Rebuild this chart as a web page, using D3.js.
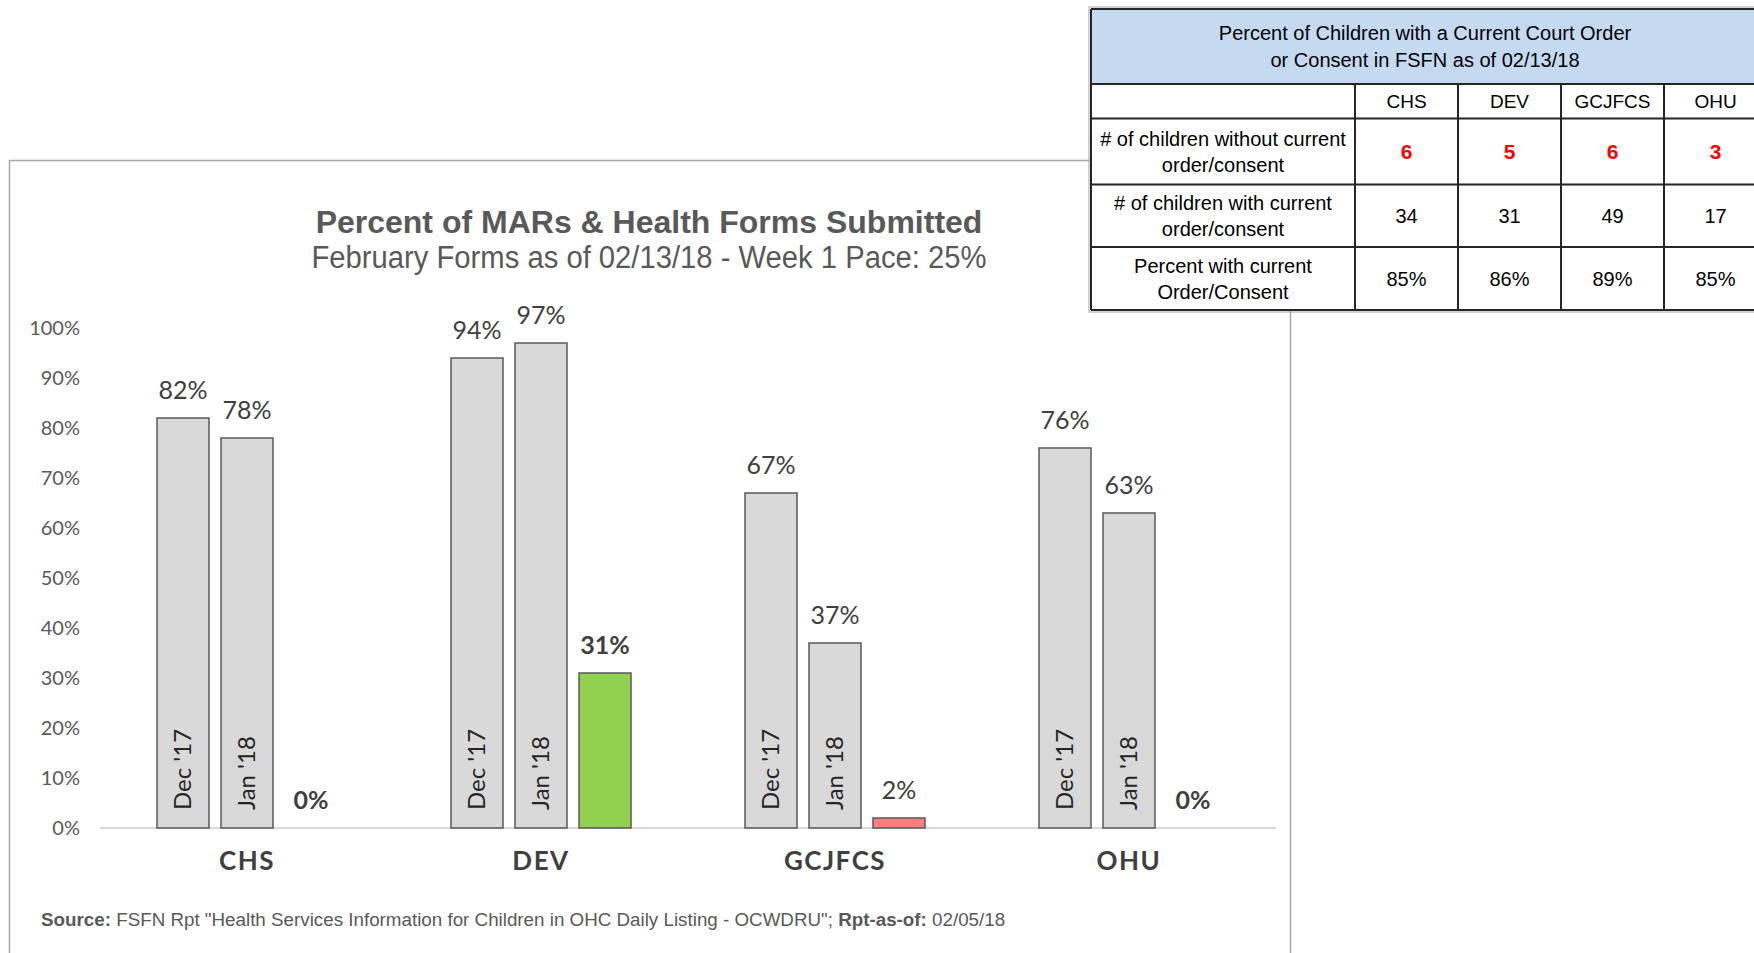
<!DOCTYPE html>
<html>
<head>
<meta charset="utf-8">
<script src="https://cdn.jsdelivr.net/npm/d3@7"></script>
<style>
  body { margin: 0; background: #fff; }
  svg { display: block; }
</style>
</head>
<body>
<svg id="chart"></svg>
<script>
// chart data
const groups = ["CHS", "DEV", "GCJFCS", "OHU"];
const periods = ["Dec '17", "Jan '18", "Feb '18"];
const dec17 = [82, 94, 67, 76];
const jan18 = [78, 97, 37, 63];
const feb18 = [0, 31, 2, 0];
const pace = 25;
const yTicks = [0, 10, 20, 30, 40, 50, 60, 70, 80, 90, 100];

// table data
const tableTitle = ["Percent of Children with a Current Court Order", "or Consent in FSFN as of 02/13/18"];
const tableCols = ["CHS", "DEV", "GCJFCS", "OHU"];
const rowLabels = [
  ["# of children without current", "order/consent"],
  ["# of children with current", "order/consent"],
  ["Percent with current", "Order/Consent"]
];
const withoutOrder = [6, 5, 6, 3];
const withOrder = [34, 31, 49, 17];
const pctWithOrder = ["85%", "86%", "89%", "85%"];

const WIDTH = 1754, HEIGHT = 953;
const CALIBRI = "Lato, 'Open Sans', sans-serif";
const ARIAL = "'Liberation Sans', Arial, sans-serif";
const NARROW = "'Liberation Sans Narrow', 'Arial Narrow', 'Liberation Sans', sans-serif";

let svg = d3.select("#chart")
  .attr("width", WIDTH)
  .attr("height", HEIGHT);

// chart frame
svg.append("rect")
  .attr("x", 9.5).attr("y", 160.5)
  .attr("width", 1281).attr("height", 820)
  .attr("fill", "#fff")
  .attr("stroke", "#a6a6a6")
  .attr("stroke-width", 1.5);

// titles
svg.append("text")
  .attr("x", 649).attr("y", 233)
  .attr("text-anchor", "middle")
  .style("font-family", ARIAL)
  .style("font-weight", "bold")
  .style("font-size", "32px")
  .style("fill", "#595959")
  .text("Percent of MARs & Health Forms Submitted");

svg.append("text")
  .attr("x", 649).attr("y", 268)
  .attr("text-anchor", "middle")
  .attr("textLength", 675)
  .attr("lengthAdjust", "spacingAndGlyphs")
  .style("font-family", NARROW)
  .style("font-size", "31px")
  .style("fill", "#595959")
  .text("February Forms as of 02/13/18 - Week 1 Pace: 25%");

// scales
let x0 = d3.scaleBand().domain(groups).range([100, 1276]).padding(0);
let x1 = d3.scaleBand().domain(periods).range([-90, 90]).paddingInner(0.1875);
let y = d3.scaleLinear().domain([0, 100]).range([828, 328]);

// y axis labels only
let yAxis = svg.append("g")
  .attr("transform", "translate(80,0)")
  .call(d3.axisLeft(y).tickValues(yTicks).tickSize(0).tickPadding(0).tickFormat(d => d + "%"));
yAxis.select(".domain").remove();
yAxis.selectAll("text")
  .style("font-family", CALIBRI)
  .style("font-size", "20px")
  .style("fill", "#595959");

// baseline
svg.append("line")
  .attr("x1", 100).attr("x2", 1276)
  .attr("y1", y(0)).attr("y2", y(0))
  .attr("stroke", "#d9d9d9")
  .attr("stroke-width", 2);

let barData = [];
groups.forEach(function(g, i) {
  [dec17[i], jan18[i], feb18[i]].forEach(function(v, j) {
    barData.push({ group: g, period: periods[j], value: v, current: j === 2 });
  });
});

function barColor(d) {
  if (!d.current) return "#d9d9d9";
  return d.value >= pace ? "#92d050" : "#ff7c80";
}

let bars = svg.append("g")
  .selectAll("g")
  .data(barData)
  .enter()
  .append("g")
    .attr("transform", d => `translate(${x0(d.group) + x0.bandwidth() / 2 + x1(d.period)},0)`);

bars.filter(d => d.value > 0)
  .append("rect")
    .attr("x", 0)
    .attr("y", d => y(d.value))
    .attr("width", x1.bandwidth())
    .attr("height", d => y(0) - y(d.value))
    .attr("fill", barColor)
    .attr("stroke", "#595959")
    .attr("stroke-width", 1.5);

// value labels
bars.append("text")
  .attr("x", x1.bandwidth() / 2)
  .attr("y", d => y(d.value) - 19)
  .attr("text-anchor", "middle")
  .style("font-family", CALIBRI)
  .style("font-size", "25px")
  .style("font-weight", d => d.current && d.value !== 2 ? "bold" : "normal")
  .style("fill", "#404040")
  .text(d => d.value + "%");

// period labels inside bars
bars.filter(d => !d.current)
  .append("text")
    .attr("transform", `translate(${x1.bandwidth() / 2},${y(0) - 18}) rotate(-90)`)
    .attr("dy", "0.35em")
    .style("font-family", CALIBRI)
    .style("font-size", "24px")
    .style("fill", "#262626")
    .text(d => d.period);

// group labels
svg.append("g")
  .selectAll("text")
  .data(groups)
  .enter()
  .append("text")
    .attr("x", d => x0(d) + x0.bandwidth() / 2)
    .attr("y", 870)
    .attr("text-anchor", "middle")
    .style("font-family", CALIBRI)
    .style("font-weight", "bold")
    .style("font-size", "26px")
    .style("letter-spacing", "1.5px")
    .style("fill", "#404040")
    .text(d => d);

// source line
let src = svg.append("text")
  .attr("x", 41).attr("y", 926)
  .style("font-family", NARROW)
  .style("font-size", "18.8px")
  .style("fill", "#595959");
src.append("tspan").style("font-weight", "bold").text("Source:");
src.append("tspan").text(" FSFN Rpt \"Health Services Information for Children in OHC Daily Listing - OCWDRU\";  ");
src.append("tspan").style("font-weight", "bold").text("Rpt-as-of:");
src.append("tspan").text(" 02/05/18");

// table
const T = { LEFT: 1091, TOP: 9, FIRST: 264, COL: 103, HEAD: 75, COLHEAD: 34.5, ROW: [66, 62.5, 63] };
let tbl = svg.append("g");
let tRight = T.LEFT + T.FIRST + T.COL * tableCols.length;
let rowTops = [T.TOP + T.HEAD + T.COLHEAD];
T.ROW.forEach((h, i) => rowTops.push(rowTops[i] + h));
let tBottom = rowTops[rowTops.length - 1];

tbl.append("rect")
  .attr("x", T.LEFT - 2).attr("y", T.TOP - 2)
  .attr("width", tRight - T.LEFT + 4).attr("height", tBottom - T.TOP + 4)
  .attr("fill", "none").attr("stroke", "#a6a6a6").attr("stroke-width", 1);
tbl.append("rect")
  .attr("x", T.LEFT).attr("y", T.TOP)
  .attr("width", tRight - T.LEFT).attr("height", tBottom - T.TOP)
  .attr("fill", "#fff");
tbl.append("rect")
  .attr("x", T.LEFT).attr("y", T.TOP)
  .attr("width", tRight - T.LEFT).attr("height", T.HEAD)
  .attr("fill", "#c5d9f1");

tableTitle.forEach(function(line, i) {
  tbl.append("text")
    .attr("x", T.LEFT + (tRight - T.LEFT) / 2 - 4)
    .attr("y", T.TOP + 31 + i * 27)
    .attr("text-anchor", "middle")
    .style("font-family", NARROW)
    .style("font-size", "20px")
    .style("fill", "#000")
    .text(line);
});

let colX = tableCols.map((c, i) => T.LEFT + T.FIRST + T.COL * i);

// horizontal lines
[T.TOP, T.TOP + T.HEAD].concat(rowTops).forEach(function(yy) {
  tbl.append("line")
    .attr("x1", T.LEFT).attr("x2", tRight)
    .attr("y1", yy).attr("y2", yy)
    .attr("stroke", "#262626").attr("stroke-width", 2);
});
// vertical lines
[T.LEFT].concat(colX).forEach(function(xx, i) {
  tbl.append("line")
    .attr("x1", xx).attr("x2", xx)
    .attr("y1", i === 0 ? T.TOP : T.TOP + T.HEAD).attr("y2", tBottom)
    .attr("stroke", "#262626").attr("stroke-width", 2);
});

// column headers
tableCols.forEach(function(c, i) {
  tbl.append("text")
    .attr("x", colX[i] + T.COL / 2)
    .attr("y", T.TOP + T.HEAD + 24)
    .attr("text-anchor", "middle")
    .style("font-family", NARROW)
    .style("font-size", "19px")
    .text(c);
});

// row labels and values
let rowValues = [withoutOrder, withOrder, pctWithOrder];
rowLabels.forEach(function(lines, r) {
  let mid = (rowTops[r] + rowTops[r + 1]) / 2;
  lines.forEach(function(line, k) {
    tbl.append("text")
      .attr("x", T.LEFT + T.FIRST / 2)
      .attr("y", mid - 6 + k * 26)
      .attr("text-anchor", "middle")
      .style("font-family", NARROW)
      .style("font-size", "20px")
      .text(line);
  });
  rowValues[r].forEach(function(v, i) {
    tbl.append("text")
      .attr("x", colX[i] + T.COL / 2)
      .attr("y", mid + 7)
      .attr("text-anchor", "middle")
      .style("font-family", NARROW)
      .style("font-size", r === 0 ? "21px" : "20px")
      .style("font-weight", r === 0 ? "bold" : "normal")
      .style("fill", r === 0 ? "#ff0000" : "#000")
      .text(v);
  });
});
</script>
</body>
</html>
